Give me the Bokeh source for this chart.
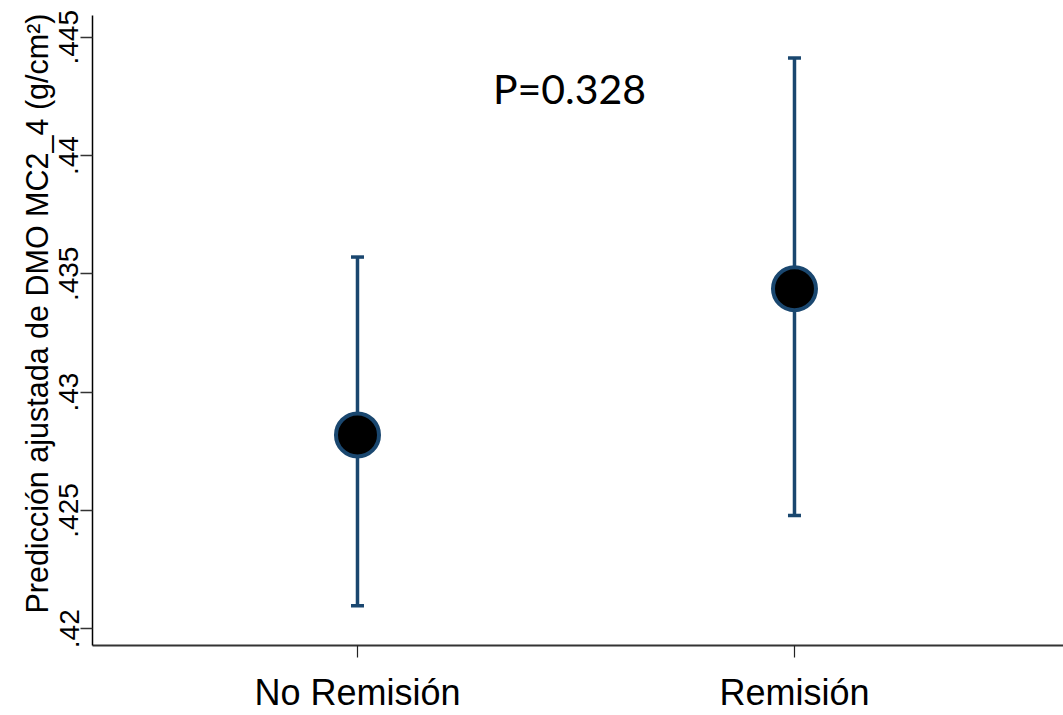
from bokeh.plotting import figure
from bokeh.models import FixedTicker, CustomJSTickFormatter, Label, ColumnDataSource
from bokeh.embed import file_html
from bokeh.resources import INLINE

# ---- data ----
categories = ["No Remisión", "Remisión"]
cat_pos = [1, 2]
margin = [0.42819, 0.43437]
ci_low = [0.42097, 0.42479]
ci_high = [0.43571, 0.44412]
y_ticks = [0.42, 0.425, 0.43, 0.435, 0.44, 0.445]
p_text = "P=0.328"
y_title = "Predicción ajustada de DMO MC2_4 (g/cm²)"

NAVY = "#1a476f"

p = figure(width=1063, height=715,
           x_range=(0.3936, 2.6156), y_range=(0.41929, 0.44592),
           output_backend="svg", toolbar_location=None,
           min_border_left=92, min_border_right=0, min_border_top=15, min_border_bottom=67)
p.outline_line_color = None
p.xgrid.visible = False
p.ygrid.visible = False
p.background_fill_color = "white"
p.border_fill_color = "white"

src = ColumnDataSource(dict(x=cat_pos, m=margin, lo=ci_low, hi=ci_high))
p.segment(x0="x", y0="lo", x1="x", y1="hi", source=src, line_color=NAVY, line_width=3.5)
p.scatter(x="x", y="hi", source=src, marker="dash", size=13, line_color=NAVY, line_width=3.5)
p.scatter(x="x", y="lo", source=src, marker="dash", size=13, line_color=NAVY, line_width=3.5)
p.scatter(x="x", y="m", source=src, marker="circle", size=43, fill_color="black",
          line_color=NAVY, line_width=4)

p.add_layout(Label(x=1.4851, y=0.44282, text=p_text, text_align="center",
                   text_baseline="alphabetic", text_font="Lato", text_font_size="41px",
                   text_color="black"))

# x axis
xa = p.xaxis[0]
xa.ticker = FixedTicker(ticks=cat_pos)
xa.major_label_overrides = {cp: c for cp, c in zip(cat_pos, categories)}
xa.minor_tick_line_color = None
xa.major_tick_out = 12
xa.major_tick_in = 0
xa.major_tick_line_color = "#222222"
xa.major_tick_line_width = 1.2
xa.axis_line_color = "#333333"
xa.axis_line_width = 2
xa.major_label_text_font = "Liberation Sans"
xa.major_label_text_font_size = "36px"
xa.major_label_text_color = "black"
xa.major_label_standoff = 14

# y axis
ya = p.yaxis[0]
ya.ticker = FixedTicker(ticks=y_ticks)
ya.formatter = CustomJSTickFormatter(code="return tick.toFixed(3).replace(/0+$/,'').replace(/^0/,'');")
ya.minor_tick_line_color = None
ya.major_tick_out = 12
ya.major_tick_in = 0
ya.major_tick_line_color = "#333333"
ya.major_tick_line_width = 1.5
ya.axis_line_color = "black"
ya.axis_line_width = 1.5
ya.major_label_orientation = "vertical"
ya.major_label_text_font = "Liberation Sans"
ya.major_label_text_font_size = "28px"
ya.major_label_text_color = "black"
ya.major_label_standoff = 2
# leading no-break spaces shift the centred title upward, as in the reference
ya.axis_label = "\u00a0" * 4 + y_title
ya.axis_label_text_font = "Liberation Sans"
ya.axis_label_text_font_size = "30.5px"
ya.axis_label_text_font_style = "normal"
ya.axis_label_text_color = "black"
ya.axis_label_standoff = 3

open("out.html", "w").write(file_html(p, INLINE))
